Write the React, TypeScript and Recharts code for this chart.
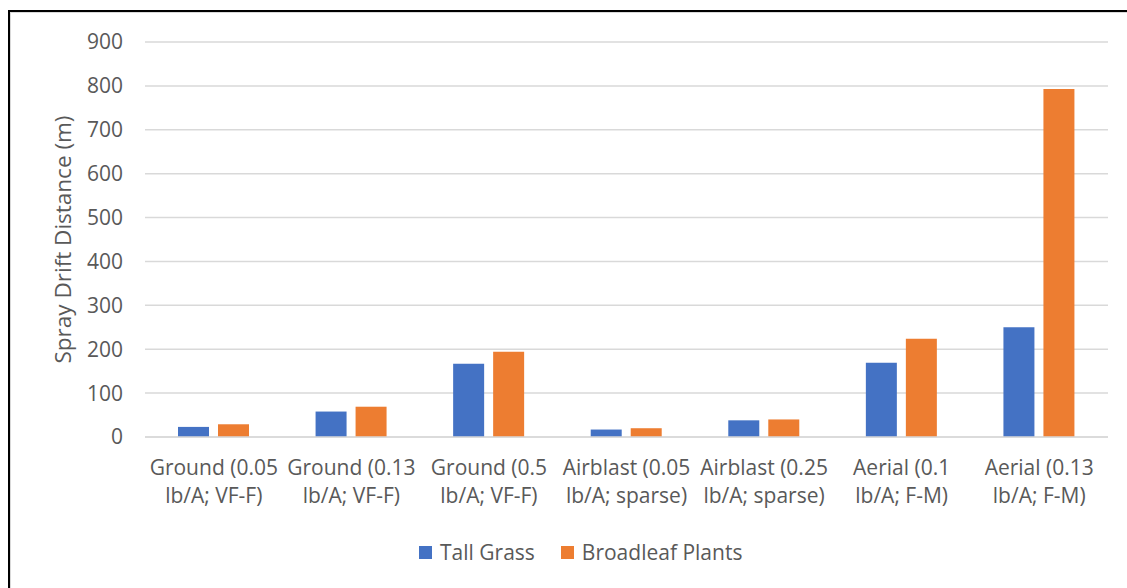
import { BarChart, Bar, XAxis, YAxis, CartesianGrid, Legend } from 'recharts'

// Category labels, already split on two lines as in the source chart
const CATEGORY_LINES = [
  ['Ground (0.05', 'lb/A; VF-F)'],
  ['Ground (0.13', 'lb/A; VF-F)'],
  ['Ground (0.5', 'lb/A; VF-F)'],
  ['Airblast (0.05', 'lb/A; sparse)'],
  ['Airblast (0.25', 'lb/A; sparse)'],
  ['Aerial (0.1', 'lb/A; F-M)'],
  ['Aerial (0.13', 'lb/A; F-M)'],
]
const CATEGORIES = CATEGORY_LINES.map(l => l.join(' '))

const TALL_GRASS = [23, 58, 167, 17, 38, 169, 250]
const BROADLEAF = [29, 69, 194, 20, 40, 224, 793]

const Y_TICKS = [0, 100, 200, 300, 400, 500, 600, 700, 800, 900]

const BLUE = '#4472C4'
const ORANGE = '#ED7D31'
const TEXT = '#595959'
const GRID = '#d9d9d9'
const FONT = '"Open Sans", "Noto Sans", sans-serif'

const SERIES = [
  { key: 'tall', name: 'Tall Grass', color: BLUE },
  { key: 'broad', name: 'Broadleaf Plants', color: ORANGE },
]

const data = CATEGORIES.map((name, i) => ({
  name,
  tall: TALL_GRASS[i],
  broad: BROADLEAF[i],
}))

const CategoryTick = ({ x, y, index }: any) => {
  const lines = CATEGORY_LINES[index] || []
  return (
    <text x={x} y={y} textAnchor="middle" fill={TEXT} fontSize={21} fontFamily={FONT}>
      {lines.map((l, i) => (
        <tspan key={i} x={x} y={y + 32 + i * 28}>{l}</tspan>
      ))}
    </text>
  )
}

// keep series order (recharts sorts legend payload by name)
const LegendContent = () => (
  <div style={{ display: 'flex', alignItems: 'center', fontFamily: FONT, fontSize: 21, color: TEXT }}>
    {SERIES.map(s => (
      <div key={s.key} style={{ display: 'flex', alignItems: 'center', marginRight: 26 }}>
        <span style={{ width: 13, height: 13, background: s.color, display: 'inline-block', marginRight: 8 }} />
        <span>{s.name}</span>
      </div>
    ))}
  </div>
)

const YLabel = ({ viewBox }: any) => {
  const cx = viewBox.x + 62
  const cy = viewBox.y + viewBox.height / 2
  return (
    <text
      x={cx}
      y={cy}
      transform={`rotate(-90, ${cx}, ${cy})`}
      textAnchor="middle"
      dominantBaseline="central"
      fill={TEXT}
      fontSize={22.5}
      fontFamily={FONT}
    >
      Spray Drift Distance (m)
    </text>
  )
}

export default function App() {
  return (
    <div style={{ position: 'absolute', left: 0, top: 0, width: 1127, height: 588, overflow: 'hidden', background: '#fff' }}>
      <div style={{ position: 'absolute', left: 8, top: 10, width: 1200, height: 700, borderTop: '2px solid #000', borderLeft: '2px solid #000' }}>
        <div style={{ width: '100%', height: '100%', borderTop: `1px solid ${GRID}`, borderLeft: `1px solid ${GRID}` }} />
      </div>
      <div style={{ position: 'absolute', left: 0, top: 0 }}>
        <BarChart
          width={1127}
          height={588}
          data={data}
          margin={{ top: 42, right: 19, left: 0, bottom: 71 }}
          barCategoryGap={33}
          barGap={9}
        >
          <CartesianGrid vertical={false} stroke={GRID} strokeWidth={1.5} />
          <XAxis
            dataKey="name"
            axisLine={{ stroke: GRID, strokeWidth: 1.5 }}
            tickLine={false}
            tickMargin={0}
            height={80}
            interval={0}
            tick={<CategoryTick />}
          />
          <YAxis
            width={145}
            domain={[0, 900]}
            ticks={Y_TICKS}
            axisLine={false}
            tickLine={false}
            tickMargin={16}
            tick={{ fill: TEXT, fontSize: 21, fontFamily: FONT }}
            label={<YLabel />}
          />
          <Legend
            layout="horizontal"
            verticalAlign="middle"
            align="center"
            wrapperStyle={{ top: 538, left: 419 }}
            content={<LegendContent />}
          />
          {SERIES.map(s => (
            <Bar key={s.key} dataKey={s.key} name={s.name} fill={s.color} isAnimationActive={false} />
          ))}
        </BarChart>
      </div>
    </div>
  )
}
